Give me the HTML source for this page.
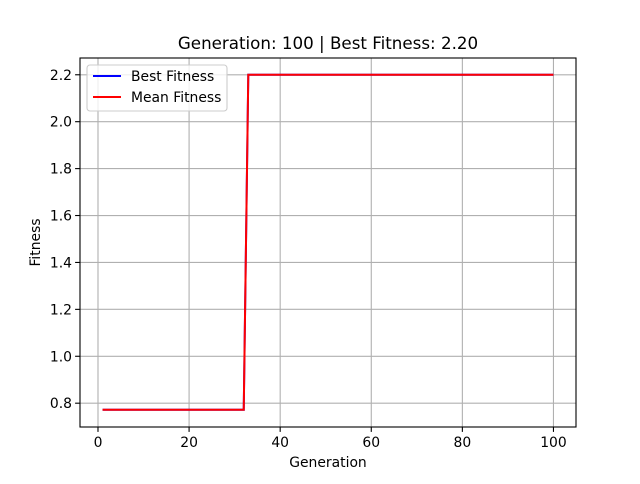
<!DOCTYPE html>
<html><head><meta charset="utf-8"><style>
body{margin:0;background:#fff;font-family:"DejaVu Sans","Liberation Sans",sans-serif;}
svg text{font-family:"DejaVu Sans","Liberation Sans",sans-serif;}
</style></head><body>
<svg id="chart" width="640" height="480" xmlns="http://www.w3.org/2000/svg"></svg>
<script>
const xTicks=[0,20,40,60,80,100];
const yTicks=[0.8,1.0,1.2,1.4,1.6,1.8,2.0,2.2];
const yTickLabels=["0.8","1.0","1.2","1.4","1.6","1.8","2.0","2.2"];
const genStart=1, genEnd=100, stepGen=33;
const lowValue=0.772, highValue=2.2;
const generations=[];const bestFitness=[];const meanFitness=[];
for(let g=genStart;g<=genEnd;g++){generations.push(g);bestFitness.push(g<stepGen?lowValue:highValue);meanFitness.push(g<stepGen?lowValue:highValue);}

const L=80,R=576,T=58,B=427;
const xmin=-3.95,xmax=104.95;
const ymin=0.6985,ymax=2.2715;
const sx=v=>L+(v-xmin)/(xmax-xmin)*(R-L);
const sy=v=>B-(v-ymin)/(ymax-ymin)*(B-T);
const svg=document.getElementById('chart');
const NS="http://www.w3.org/2000/svg";
function mk(tag,attrs,parent){const e=document.createElementNS(NS,tag);for(const k in attrs)e.setAttribute(k,attrs[k]);(parent||svg).appendChild(e);return e;}
const FS=13.9;

xTicks.forEach(v=>{const l=mk('line',{x1:sx(v),x2:sx(v),y1:T,y2:B,stroke:'#b0b0b0','stroke-width':1.1});

});
yTicks.forEach(v=>{const l=mk('line',{x1:L,x2:R,y1:sy(v),y2:sy(v),stroke:'#b0b0b0','stroke-width':1.1});

});

function path(vals,color,name){const d=generations.map((g,i)=>(i?'L':'M')+sx(g).toFixed(2)+' '+sy(vals[i]).toFixed(2)).join(' ');
const p=mk('path',{d:d,fill:'none',stroke:color,'stroke-width':2});

}
path(bestFitness,'#0000ff','best-fitness-line');
path(meanFitness,'#ff0000','mean-fitness-line');

const f=mk('rect',{x:L,y:T,width:R-L,height:B-T,fill:'none',stroke:'#000','stroke-width':1.1});



xTicks.forEach(v=>{mk('line',{x1:sx(v),x2:sx(v),y1:B,y2:B+4.9,stroke:'#000','stroke-width':1.1});
const t=mk('text',{x:sx(v),y:B+20,'text-anchor':'middle','font-size':FS});t.textContent=v;

});
yTicks.forEach((v,i)=>{mk('line',{x1:L-4.9,x2:L,y1:sy(v),y2:sy(v),stroke:'#000','stroke-width':1.1});
const t=mk('text',{x:L-8,y:sy(v)+5,'text-anchor':'end','font-size':FS});t.textContent=yTickLabels[i];

});

const tt=mk('text',{x:(L+R)/2,y:49,'text-anchor':'middle','font-size':16.7});tt.textContent='Generation: 100 | Best Fitness: 2.20';


const xl=mk('text',{x:(L+R)/2,y:467,'text-anchor':'middle','font-size':FS});xl.textContent='Generation';


const yl=mk('text',{x:0,y:0,'text-anchor':'middle','font-size':FS,transform:'translate(40,'+((T+B)/2)+') rotate(-90)'});yl.textContent='Fitness';



const lg=mk('g',{});


mk('rect',{x:87,y:65,width:140,height:46,rx:3,fill:'#fff','fill-opacity':0.8,stroke:'#cccccc','stroke-width':1.1},lg);
[['Best Fitness','#0000ff',76],['Mean Fitness','#ff0000',97]].forEach(([n,c,y])=>{
mk('line',{x1:93,x2:121,y1:y,y2:y,stroke:c,'stroke-width':2},lg);
const t=mk('text',{x:131,y:y+5,'font-size':FS},lg);t.textContent=n;

});
</script>
</body></html>
